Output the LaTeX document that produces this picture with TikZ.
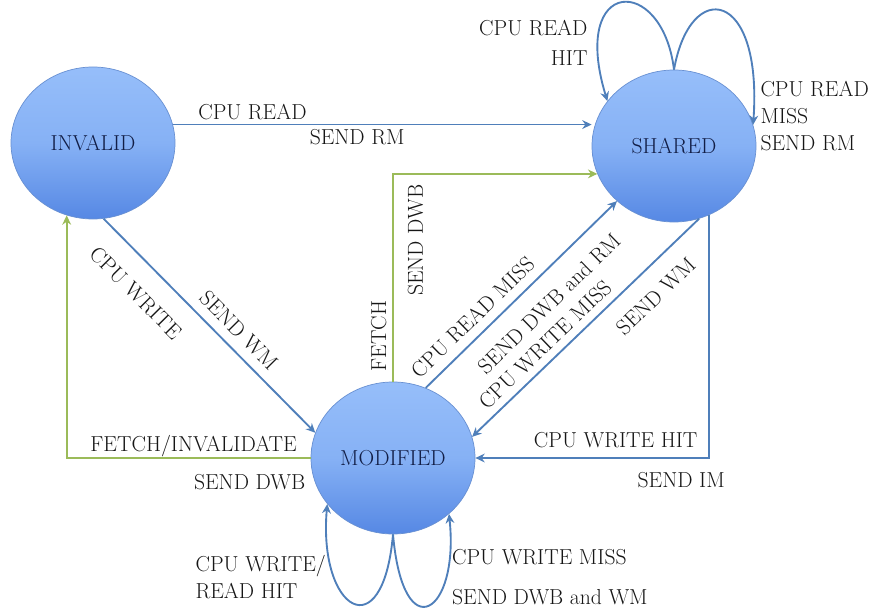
\documentclass[tikz,border=0pt]{standalone}
\usepackage{fontspec}
\usetikzlibrary{positioning,shapes.geometric,arrows.meta}

\definecolor{stateblue}{RGB}{150,190,250}
\definecolor{statemid}{RGB}{134,177,245}
\definecolor{statedeep}{RGB}{86,136,228}
\definecolor{stateedge}{RGB}{104,144,210}
\definecolor{statetext}{RGB}{18,30,70}
\definecolor{linkblue}{RGB}{79,127,186}
\definecolor{linkgreen}{RGB}{155,187,89}
\definecolor{labeltext}{RGB}{22,22,22}

\tikzset{
  state/.style={ellipse,draw=stateedge,line width=0.6pt,
    top color=stateblue,bottom color=statedeep,middle color=statemid,
    minimum width=4.92cm,minimum height=4.56cm,inner sep=0pt,text=statetext},
  bus/.style={draw=linkblue,line width=1.6pt,-{Stealth[length=8pt,width=7.5pt]}},
  fetchbus/.style={bus,draw=linkgreen},
}

\begin{document}
\begin{tikzpicture}[x=0.03cm,y=-0.03cm,font=\fontsize{18.5}{23}\selectfont,text=labeltext]
    \useasboundingbox (0,0) rectangle (892,615);

    \node[state] (inv) at (93,143) {INVALID};
    \node[state] (shr) at (674,146) {SHARED};
    \node[state] (mod) at (393,458) {MODIFIED};

    % invalid -> shared
    \draw[bus] (inv.13) -- (shr.west |- inv.13)
        node[above,pos=.19] (rd) {CPU READ}
        node[below,pos=.44] (rm) {SEND RM};

    % invalid -> modified
    \draw[bus] (inv.-82) -- (mod.162)
        node[sloped,below=5mm,pos=.25] (cw) {CPU WRITE}
        node[sloped,above=1.5mm,pos=.58] (wm) {SEND WM};

    % modified -> shared
    \draw[fetchbus] (mod.north) |- (shr.200)
        node[sloped,above=0.5mm,pos=.11] (fch) {FETCH}
        node[sloped,below=3mm,pos=.34] (dwb) {SEND DWB};
    \draw[bus] (mod.65) -- (shr.224)
        node[sloped,above=1.5mm,pos=.31] (rdm) {CPU READ MISS}
        node[sloped,below=4mm,pos=.55] (dwbrm) {SEND DWB and RM};

    % shared -> modified
    \draw[bus] (shr.-71) -- (mod.15)
        node[sloped,below=4mm,pos=.27] (swm) {SEND WM}
        node[sloped,above=1mm,pos=.63] (cwm) {CPU WRITE MISS};
    \draw[bus] (shr.-63) |- (mod.east)
        node[below=3mm,pos=.56] (sim) {SEND IM}
        node[above=1.5mm,pos=.7] (cwh) {CPU WRITE HIT};

    % modified -> invalid
    \draw[fetchbus] (mod.west) -| (inv.-110)
        node[above=-1mm,pos=.24] (finv) {FETCH/INVALIDATE}
        node[below=3.5mm,pos=.125] (sdwb) {SEND DWB};

    % self loops
    \draw[bus] (shr.north) to[out=97,in=107,out distance=2.9cm,in distance=3.9cm] (shr.146);
    \draw[bus] (shr.north) to[out=80,in=86,out distance=2.8cm,in distance=4.1cm] (shr.15);
    \draw[bus] (mod.south) to[out=-95,in=-95,out distance=3.5cm,in distance=3.2cm] (mod.-145);
    \draw[bus] (mod.south) to[out=-85,in=-84,out distance=3.5cm,in distance=3cm] (mod.-45);

    \node[align=right,anchor=south east] (rhit) at (shr.west |- shr.north) {CPU READ\\[3pt]HIT};
    \node[align=left,anchor=west,yshift=0.9cm] (rmiss) at (shr.east) {CPU READ\\MISS\\SEND RM};
    \node[align=left,anchor=east] (wrhit) at (330,577) {CPU WRITE/\\READ HIT};
    \node[align=left,anchor=west] (wmiss) at (448,577) {CPU WRITE MISS\\[11pt]SEND DWB and WM};
\end{tikzpicture}
\end{document}
